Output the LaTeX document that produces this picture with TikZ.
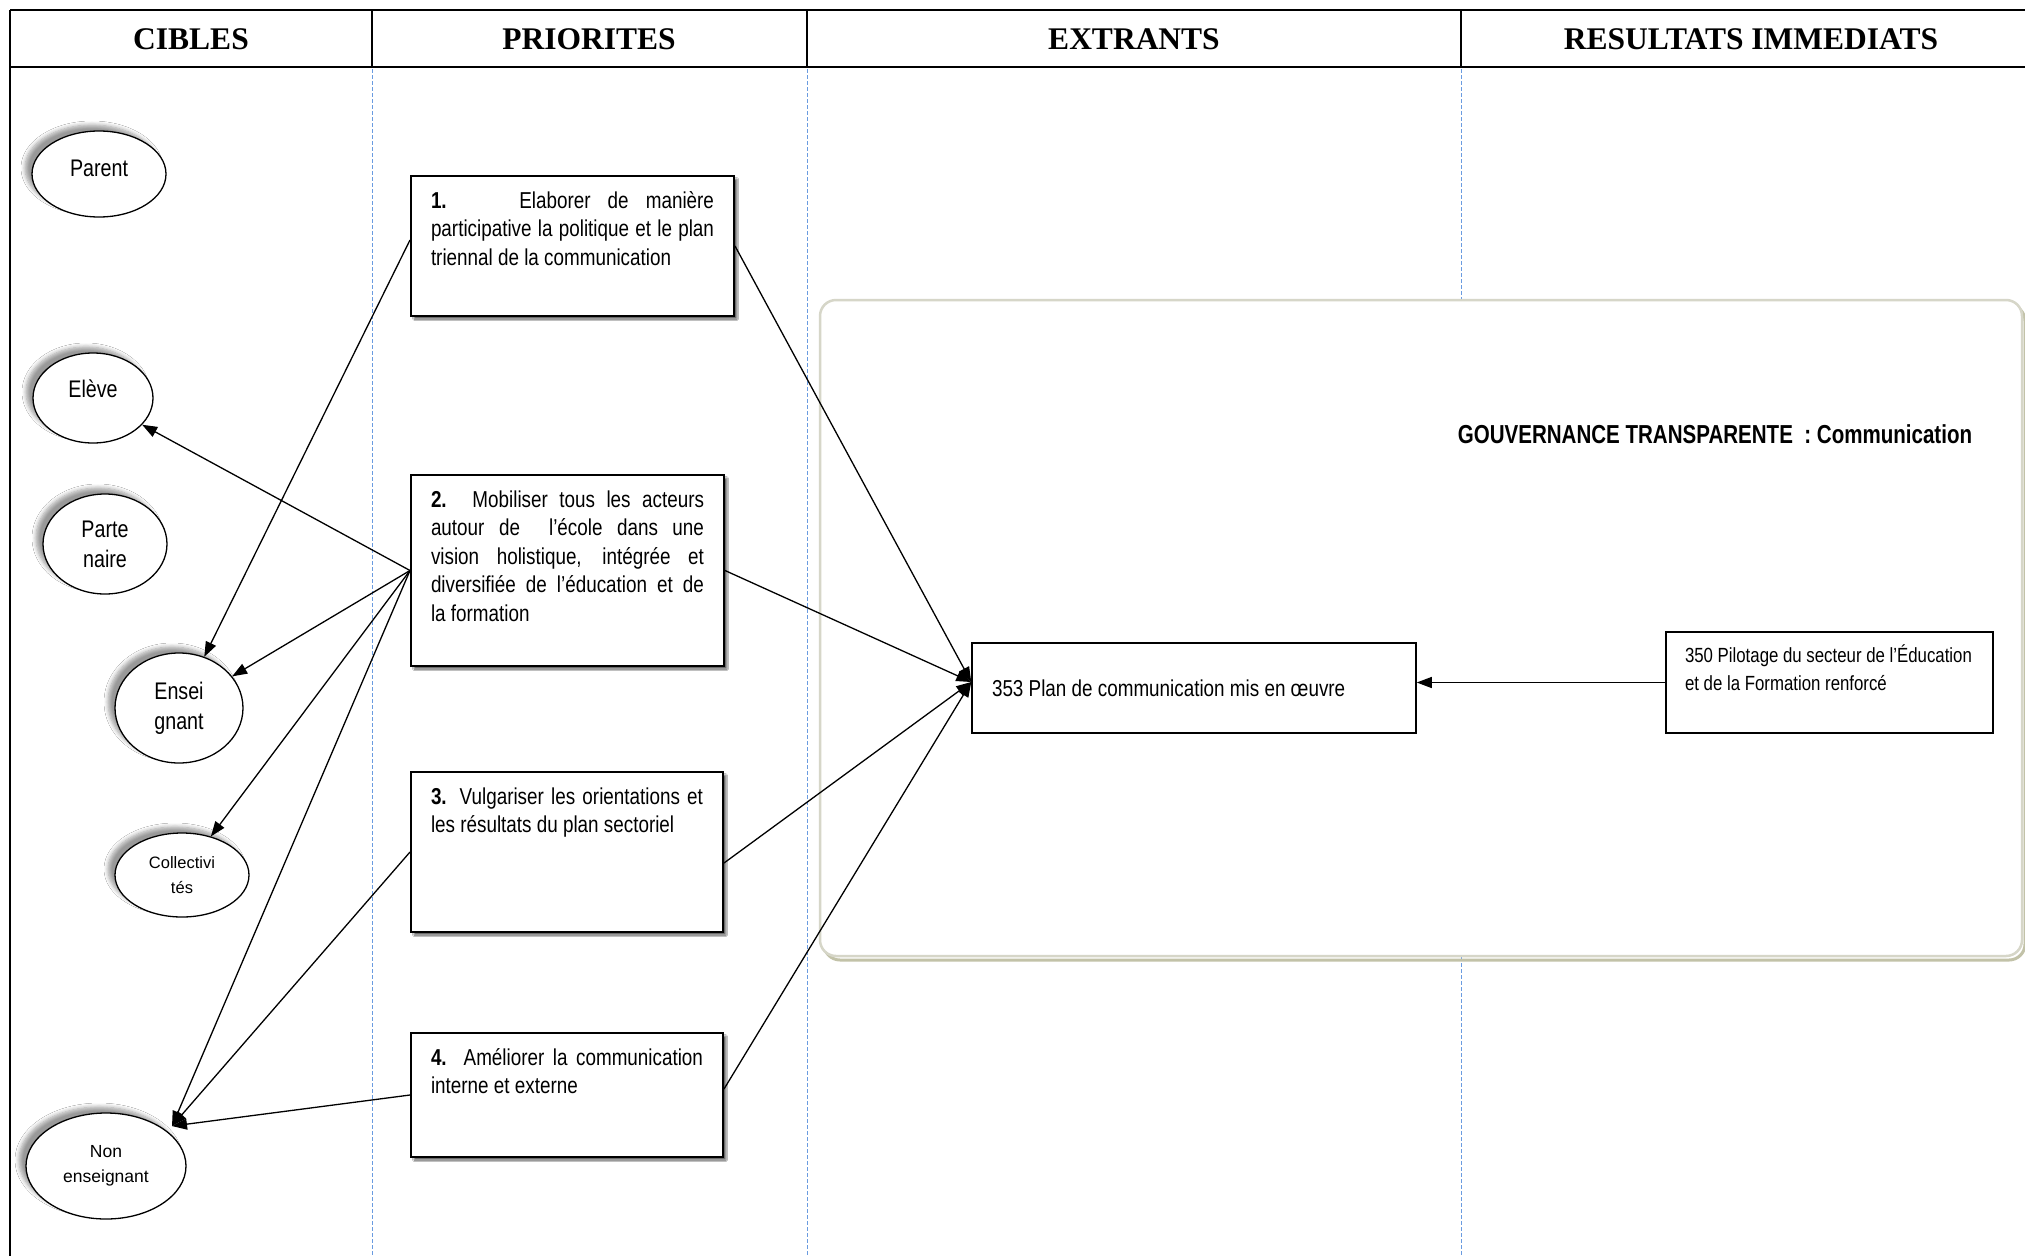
\documentclass[tikz,border=0pt]{standalone}
\usepackage{fontspec}
\setmainfont{Liberation Sans}
\newfontfamily\nar[FakeStretch=0.82]{Liberation Sans}
\newfontfamily\narb[FakeStretch=0.79]{Liberation Sans}
\newfontfamily\hdr{Liberation Serif}
\usetikzlibrary{arrows.meta,shapes.geometric,shadows.blur}
\definecolor{dashblue}{HTML}{6A9BE0}
\definecolor{grpline}{HTML}{D6D6C8}
\definecolor{grpshadow}{HTML}{C2C2A8}
\newcommand\jline[1]{\makebox[\linewidth][s]{#1}}
\newcommand\boxtxt[3]{\parbox[c][#2][t]{#1}{\rule{0pt}{32pt}#3}}
\begin{document}
\begin{tikzpicture}[x=1pt,y=-1pt,
  cible/.style={ellipse, draw, line width=1.3pt, fill=white, inner sep=0pt, align=center,
    blur shadow={shadow xshift=-7pt, shadow yshift=6pt, shadow blur radius=4pt, shadow blur steps=6, shadow opacity=40}},
  prio/.style={rectangle, draw, line width=2pt, fill=white, inner sep=0pt,
    font=\nar\fontsize{23}{28.5}\selectfont,
    blur shadow={shadow xshift=3pt, shadow yshift=-3pt, shadow blur radius=1.5pt, shadow blur steps=3, shadow opacity=60}},
  res/.style={rectangle, draw, line width=1.5pt, fill=white, inner sep=0pt},
  arr/.style={line width=1.3pt, -{Triangle[length=15pt,width=11pt]}},
  hdrtxt/.style={anchor=base, font=\hdr\bfseries\fontsize{31.5}{32}\selectfont},
  colline/.style={dashblue, line width=1pt, dash pattern=on 4pt off 2pt},
  bigname/.style={font=\nar\fontsize{24}{30}\selectfont}
]
\fill[white] (0,0) rectangle (2025,1256);
\useasboundingbox (0,0) rectangle (2025,1256);

% header
\draw[line width=1.2pt] (10,10) -- (2025,10);
\draw[line width=2.4pt] (10,67) -- (2025,67);
\draw[line width=1.2pt] (10,10) -- (10,1256);
\draw[line width=1.2pt] (372,10) -- (372,67);
\draw[line width=1.2pt] (807,10) -- (807,67);
\draw[line width=1.2pt] (1461,10) -- (1461,67);
\node[hdrtxt] (hcib) at (191,49) {CIBLES};
\node[hdrtxt] (hpri) at (589,49) {PRIORITES};
\node[hdrtxt] (hext) at (1134,49) {EXTRANTS};
\node[hdrtxt] (hres) at (1751,49) {RESULTATS IMMEDIATS};

% column separators
\draw[colline] (372,69) -- (372,1256);
\draw[colline] (807,69) -- (807,1256);
\draw[colline] (1461,69) -- (1461,1256);

% group frame
\draw[grpshadow, line width=3pt, rounded corners=16pt] (824,305) rectangle (2025,960);
\draw[grpline, line width=2.5pt, fill=white, rounded corners=16pt] (820,300) rectangle (2022,956);
\node[font=\narb\bfseries\fontsize{26}{26}\selectfont] (gtitle) at (1715,434) {GOUVERNANCE TRANSPARENTE\ \ : Communication};

% targets
\node[cible, bigname, minimum width=134pt, minimum height=86pt, text depth=12pt] (par) at (99,174) {Parent};
\node[cible, bigname, minimum width=120pt, minimum height=90pt, text depth=18pt] (ele) at (93,398) {Elève};
\node[cible, bigname, minimum width=124pt, minimum height=100pt] (part) at (105,544) {Parte\\naire};
\node[cible, bigname, minimum width=128pt, minimum height=110pt] (ens) at (179,708) {Ensei\\gnant};
\node[cible, minimum width=134pt, minimum height=84pt, font=\fontsize{16.5}{24.5}\selectfont] (col) at (182,875) {Collectivi\\tés};
\node[cible, minimum width=160pt, minimum height=106pt, font=\fontsize{17.5}{25}\selectfont] (non) at (106,1166) {Non\\enseignant};

% priorities
\node[prio, minimum width=323pt, minimum height=140pt] (p1) at (572.5,246)
  {\boxtxt{283pt}{140pt}{\jline{\textbf{1.}\hspace{30pt} Elaborer de manière}\\
   \jline{participative la politique et le plan}\\
   triennal de la communication}};
\node[prio, minimum width=313pt, minimum height=191pt] (p2) at (567.5,570.5)
  {\boxtxt{273pt}{191pt}{\jline{\textbf{2.} Mobiliser tous les acteurs}\\
   \jline{autour de\ \ l’école dans une}\\
   \jline{vision holistique, intégrée et}\\
   \jline{diversifiée de l’éducation et de}\\
   la formation}};
\node[prio, minimum width=312pt, minimum height=160pt] (p3) at (567,852)
  {\boxtxt{272pt}{160pt}{\jline{\textbf{3.} Vulgariser les orientations et}\\
   les résultats du plan sectoriel}};
\node[prio, minimum width=312pt, minimum height=124pt] (p4) at (567,1095)
  {\boxtxt{272pt}{124pt}{\jline{\textbf{4.} Améliorer la communication}\\
   interne et externe}};

% outputs / results
\node[res, minimum width=444pt, minimum height=90pt, font=\nar\fontsize{23}{28}\selectfont] (m353) at (1194,688)
  {\parbox{404pt}{353 Plan de communication mis en œuvre}};
\node[res, minimum width=327pt, minimum height=101pt, font=\nar\fontsize{20.5}{28}\selectfont] (m350) at (1829.5,682.5)
  {\parbox[c][101pt][t]{289pt}{\rule{0pt}{30pt}\mbox{350 Pilotage du secteur de l’Éducation}\\ et de la Formation renforcé}};

\coordinate (m353in) at ([yshift=6pt]m353.west);
\coordinate (nonT) at ([xshift=9pt,yshift=2pt]non.north east);

% connectors
\draw[arr] ([yshift=6pt]p1.west) -- (ens);
\draw[arr] (p2.west) -- (ele);
\draw[arr] (p2.west) -- (ens);
\draw[arr] (p2.west) -- (col);
\draw[arr] (p2.west) -- (nonT);
\draw[arr] (p3.west) -- (nonT);
\draw[arr] (p4.west) -- (nonT);

\draw[arr] (p1.east) -- (m353in);
\draw[arr] (p2.east) -- (m353in);
\draw[arr] ([yshift=-11pt]p3.east) -- (m353in);
\draw[arr] ([yshift=6pt]p4.east) -- (m353in);
\draw[arr] (m350.west) -- (m350.west -| m353.east);
\end{tikzpicture}
\end{document}
